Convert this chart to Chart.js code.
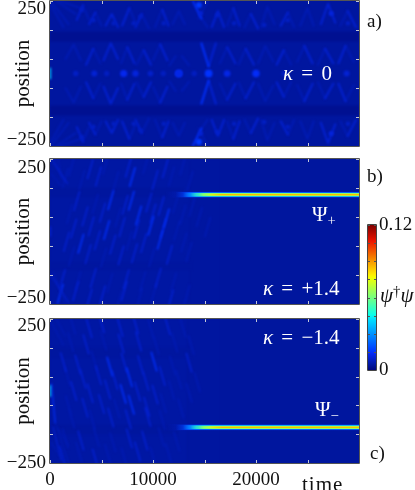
<!DOCTYPE html>
<html><head><meta charset="utf-8">
<style>
html,body{margin:0;padding:0;background:#fff;width:415px;height:490px;overflow:hidden}
canvas{position:absolute;left:0;filter:blur(.35px)}
.n{position:absolute;font:19px "Liberation Serif",serif;white-space:pre;line-height:1;transform:translateY(-50%);filter:blur(.25px)}
.w{color:#fff;font-size:21px;word-spacing:3px}.k{color:#111}
sub{font-size:70%;vertical-align:-4px;line-height:0}
sup{font-size:70%;vertical-align:6px;line-height:0}
</style>
<script src="https://cdn.jsdelivr.net/npm/chart.js@4/dist/chart.umd.js"></script>
</head><body>
<canvas id="pa" width="415" height="150" style="top:0px"></canvas>
<canvas id="pb" width="415" height="152" style="top:155px"></canvas>
<canvas id="pc" width="415" height="175" style="top:315px"></canvas>
<canvas id="cb" width="55" height="165" style="left:360px;top:215px"></canvas>
<div class="n k" style="left:367px;top:20px">a)</div>
<div class="n k" style="left:367px;top:175px">b)</div>
<div class="n k" style="left:370px;top:452px">c)</div>
<div class="n w" style="left:283px;top:73px"><i>κ</i> = 0</div>
<div class="n w" style="left:312px;top:214px">Ψ<sub>+</sub></div>
<div class="n w" style="left:263px;top:288px"><i>κ</i> = +1.4</div>
<div class="n w" style="left:263px;top:337px"><i>κ</i> = −1.4</div>
<div class="n w" style="left:315px;top:409px">Ψ<sub>−</sub></div>
<div class="n k" style="left:380px;top:295px;font-size:21px"><i>ψ</i><sup>†</sup><i>ψ</i></div>
<div class="n k" style="left:302px;top:484px;font-size:21px;letter-spacing:1px">time</div>
<script>
const FONT='"Liberation Serif",serif';
const xTicks=[0,5000,10000,15000,20000,25000,30000];
const xTickLabels=['0','','10000','','20000','',''];
const yTicks=[-250,-150,-50,50,150,250];
const cbTicks=[0,0.015,0.03,0.045,0.06,0.075,0.09,0.105,0.12];
const dashLevels=[0,0.0066,0.0098,0.0145];
const jetStops=[[0,[0,6,125]],[0.035,[0,22,158]],[0.11,[5,40,240]],[0.125,[0,50,255]],[0.35,[0,225,255]],[0.38,[10,255,235]],[0.64,[245,255,0]],[0.66,[255,235,0]],[0.89,[235,20,0]],[1,[128,0,0]]];
const bandsA=[[0.0026,110,145,0,30000],[0.0026,-145,-110,0,30000]];
const bandsB=[[0.0047,-250,250,0,13600],[0.0044,-250,250,13600,16500],[0.0042,119,150,0,13000],[0.0043,-133,-105,0,14000]];
const bandsC=[[0.0047,-250,250,0,13300],[0.0044,-250,250,13300,16500],[0.0043,115,150,0,14000],[0.0042,-150,-118,0,12500]];
const dashesA=[[100,250,1800,170,1],[100,235,1300,160,1],[600,250,2500,205,1],[1000,250,3000,225,1],
[2600,185,3200,235,2],[3200,235,3800,185,1],[3800,170,4400,210,2],[4400,210,5000,165,1],[5400,165,6000,205,2],[6000,205,6600,160,2],
[7000,165,7700,225,2],[7700,225,8300,175,1],[8300,160,8900,205,2],[8900,205,9600,155,1],[10200,160,10900,220,1],[10900,220,11500,165,2],
[11900,170,12500,215,1],[12500,215,13100,170,1],[13900,248,14700,190,3],[14700,190,15300,160,1],[14400,190,15300,248,1],[15700,160,16300,215,2],
[16300,215,16900,160,2],[17200,165,17800,225,1],[17800,225,18400,165,2],[18900,160,19500,205,1],[19500,205,20200,155,2],[20500,160,21100,230,1],
[21100,230,21800,170,1],[22400,165,23100,210,2],[23100,210,23700,160,1],[24300,165,25000,225,1],[25000,225,25600,165,1],[26300,170,27000,240,2],
[27000,240,27700,175,2],[28200,165,28900,215,1],[28900,215,29700,160,2],
[1500,50,2300,100,1],[2300,100,3000,45,1],[3500,30,4200,85,2],[4200,85,4900,35,1],[5200,45,5900,104,2],[5900,104,6600,50,2],
[6900,35,7500,90,1],[7500,90,8200,35,2],[8400,30,9100,80,1],[9100,80,9800,30,2],[10000,45,10700,100,1],[10700,100,11400,45,2],
[11600,28,12200,60,1],[12800,60,13500,28,1],[14700,104,15400,25,3],[16100,104,15400,25,2],[16500,35,17200,90,1],[17200,90,18000,35,2],
[18300,30,19000,85,1],[19000,85,19800,30,2],[20200,35,20900,95,1],[20900,95,21700,40,1],[22000,30,22700,80,2],[22700,80,23400,30,1],
[24000,40,24700,95,1],[24700,95,25500,35,2],[26000,30,26700,85,1],[26700,85,27500,35,2],[28000,35,28700,95,2],[28700,95,29500,40,1]];
const spotsA=[[3090,219,.0085],[4225,184,.0085],[6175,173,.0085],[8125,173,.0085],[8775,196,.008],[11050,173,.0085],[14460,236,.016],[14625,207,.01],[16250,202,.009],[17875,173,.0085],[20800,167,.0085],[23075,184,.0085],[27300,207,.011],[28925,173,.0085]];
const axisSpotsA=[[2500,0,.0085],[4300,0,.01],[5500,0,.008],[7150,0,.013],[8300,0,.011],[9750,0,.009],[11000,0,.008],[12500,0,.014],[12500,0,.012],[14000,0,.008],[15400,0,.015],[17200,0,.012],[20000,0,.014],[22700,0,.008],[28800,0,.01]];
const dashesB=[[2100,225,1],[3900,215,2],[5400,230,1],[7600,220,2],[9300,232,1],[11200,218,2],[12900,228,1],
[1500,185,1],[3100,178,1],[4700,190,2],[6400,175,1],[8000,188,3],[10200,178,2],[11800,190,1],[13600,175,1],
[2600,105,2],[4400,95,1],[5900,108,3],[7300,92,2],[7900,106,3],[9600,100,2],[10800,88,2],[12200,96,1],[13800,85,1],
[1900,60,1],[3400,52,2],[5100,65,2],[6600,48,1],[8600,55,3],[10000,62,2],[11300,45,3],[12900,58,1],[14500,50,1],
[2300,10,2],[4000,18,2],[5500,5,3],[7000,15,2],[8400,8,2],[9800,20,3],[11000,12,2],[12300,3,1],[15300,15,1],
[1600,-35,2],[3000,-42,3],[4600,-30,2],[6100,-45,2],[7700,-32,1],[9100,-40,2],[10700,-28,3],[13000,-38,1],
[2100,-85,1],[3700,-78,2],[5200,-90,1],[6900,-82,2],[8200,-75,2],[9900,-88,1],[11600,-80,2],[13500,-70,1],
[1200,-165,2],[2700,-172,1],[4200,-160,2],[5800,-178,1],[7400,-165,2],[9000,-172,1],[10500,-160,2],[12000,-175,1],
[1000,-215,3],[2500,-205,2],[3800,-232,2],[5100,-220,2],[6700,-238,1],[7200,-205,2],[8700,-228,1],[10100,-210,1],[11700,-235,2],[13300,-218,1]];
const dashesC=[[2200,230,1],[3800,218,2],[5000,235,2],[6800,222,2],[8300,232,2],[9800,215,1],[11400,228,2],[12900,220,1],
[2000,170,1],[3500,162,2],[5200,175,1],[6900,165,2],[8600,172,2],[10300,160,1],[12100,168,1],[13700,160,1],
[1300,100,2],[2700,92,2],[4300,105,1],[5800,85,3],[7200,98,2],[8800,90,2],[10100,102,3],[11900,88,1],[13500,98,2],
[1700,50,1],[3200,42,2],[4700,55,2],[6300,38,2],[7700,48,3],[9300,35,2],[10900,52,2],[12500,40,1],[14300,30,1],
[2300,0,2],[3900,-8,2],[5600,5,2],[7100,-10,3],[8500,-2,2],[10200,-12,2],[11800,3,1],[13500,-6,1],
[1800,-50,1],[3400,-58,2],[5000,-45,2],[6500,-62,1],[7900,-48,3],[9400,-55,2],[11000,-42,1],[12700,-60,1],
[2100,-95,1],[4100,-100,1],[5900,-92,2],[7600,-98,2],[9500,-90,2],[10900,-100,1],
[1500,-165,1],[3000,-172,2],[4500,-160,1],[6100,-178,1],[7700,-165,2],[9200,-172,2],[10800,-160,1],[12300,-175,1],
[1200,-225,2],[2800,-212,1],[4400,-235,2],[5600,-218,1],[7200,-230,1],[8500,-210,2],[10000,-228,1],[11500,-215,1]];
const cornerFanB=[[100,250,1700,165,2],[400,250,1400,170,1],[800,250,1100,185,1],[100,200,1000,160,1],[100,-150,1800,-245,2],[700,-170,1500,-250,1],[300,-140,1000,-200,1]];
const cornerFanC=[[100,240,1300,160,1],[600,250,1500,190,1],[150,25,500,-110,3],[500,-110,1800,-250,1],[300,-125,1100,-240,2],[100,-180,1400,-245,1],[800,-130,1800,-190,1]];
const edgeSpotsA=[[30,20,30,-20,.04]];
const edgeSpotsB=[[30,18,30,-18,.01]];
const edgeSpotsC=[[30,20,30,-20,.04]];
const streakStart=[11200,12200,12900,13600,14400,15400];
const streakHalf=[11,9,7,5.5,4,2.2];
const streakValue=[.006,.018,.036,.056,.072,.085];
const streakPosB=127, streakPosC=-126;
const colorOf=v=>{let f=Math.min(v/0.12,1);for(let i=1;i<jetStops.length;i++){if(f<=jetStops[i][0]){const[a,A]=jetStops[i-1],[b,B]=jetStops[i],k=(f-a)/(b-a);return`rgb(${A.map((c,j)=>Math.round(c+(B[j]-c)*k)).join(',')})`}}return'#800000'};
const fade=(col)=>col.replace('rgb(','rgba(').replace(')',',0)');
const polyline=list=>{const out=[];list.forEach(([a,b,c,d])=>out.push({x:a,y:b},{x:c,y:d},{x:c,y:null}));return out};
function bandSets(bands){const r=[];bands.forEach(([v,lo,hi,t0,t1])=>{r.push({data:[{x:t0,y:hi},{x:t1,y:hi}],showLine:true,borderWidth:0,pointRadius:0,fill:'+1',backgroundColor:colorOf(v)},{data:[{x:t0,y:lo},{x:t1,y:lo}],showLine:true,borderWidth:0,pointRadius:0,fill:false});});return r}
function lineSets(list,width){return [1,2,3].map(l=>({data:polyline(list.filter(d=>d[4]===l)),showLine:true,borderColor:colorOf(dashLevels[l]),borderWidth:width,borderCapStyle:'round',pointRadius:0,spanGaps:false,fill:false}))}
function spotSet(list,k){return{data:list.map(s=>({x:s[0],y:s[1]})),showLine:false,pointRadius:list.map(s=>Math.min(1.2+s[2]*k,5)),pointBackgroundColor:list.map(s=>colorOf(s[2])),pointBorderWidth:0,fill:false}}
function edgeSet(list){return list.map(s=>({data:[{x:s[0],y:s[1]},{x:s[2],y:s[3]}],showLine:true,borderColor:colorOf(s[4]),borderWidth:1.6,pointRadius:0,fill:false}))}
function streakSets(pos){return streakStart.map((t,i)=>({data:[{x:t,y:pos},{x:30000,y:pos}],showLine:true,borderWidth:streakHalf[i]*2/3.45,pointRadius:0,fill:false,blur:'blur(.45px)',
 borderColor:c=>{const s=c.chart.scales.x,col=colorOf(streakValue[i]);if(!s||!c.chart.chartArea)return col;const g=c.chart.ctx.createLinearGradient(s.getPixelForValue(t),0,s.getPixelForValue(t+1300),0);g.addColorStop(0,fade(col));g.addColorStop(1,col);return g}}))}
const mirror=l=>l.concat(l.map(d=>[d[0],-d[1],d[2],-d[3],d[4]]));
const mirrorSpots=l=>l.concat(l.map(d=>[d[0],-d[1],d[2]]));
const slant=(l,dt,dp)=>l.map(([t,p,v])=>[t-dt,p-dp,t+dt,p+dp,v]);
const noMargins=s=>{s.paddingTop=0;s.paddingBottom=0;s.paddingLeft=0;s.paddingRight=0};
const heat={id:'heat',
 beforeDatasetsDraw(c,a,o){const{ctx,chartArea:r}=c;ctx.save();ctx.fillStyle=colorOf(o.base);ctx.fillRect(r.left,r.top,r.width,r.height);ctx.filter=o.blur},
 beforeDatasetDraw(c,a,o){const b=c.data.datasets[a.index].blur;if(b)c.ctx.filter=b},
 afterDatasetsDraw(c){const{ctx,chartArea:r,scales:{x,y}}=c;ctx.restore();ctx.save();ctx.strokeStyle='#c4c8d8';ctx.lineWidth=1;ctx.beginPath();
  x.ticks.forEach(t=>{const p=Math.round(x.getPixelForValue(t.value))+.5;ctx.moveTo(p,r.top);ctx.lineTo(p,r.top+3);ctx.moveTo(p,r.bottom);ctx.lineTo(p,r.bottom-3)});
  y.ticks.forEach(t=>{const p=Math.round(y.getPixelForValue(t.value))+.5;ctx.moveTo(r.left,p);ctx.lineTo(r.left+3,p);ctx.moveTo(r.right,p);ctx.lineTo(r.right-3,p)});
  ctx.stroke();ctx.strokeStyle='#555';ctx.beginPath();ctx.rect(r.left-.5,r.top-.5,r.width+1,r.height+1);ctx.stroke();ctx.restore()}};
function panel(id,cfg){const sets=cfg.sets;sets.forEach((d,i)=>d.order=sets.length-i);
 return new Chart(document.getElementById(id),{type:'scatter',data:{datasets:sets},plugins:[heat],options:{responsive:false,animation:false,events:[],
 layout:{autoPadding:false,padding:{top:cfg.top,bottom:cfg.bottom,left:0,right:56}},
 plugins:{legend:{display:false},tooltip:{enabled:false},heat:{base:cfg.base,blur:'blur(1px)'}},
 elements:{line:{tension:0}},
 scales:{x:{type:'linear',min:0,max:30000,grid:{display:false,drawTicks:false},border:{display:false},afterBuildTicks:s=>{s.ticks=xTicks.map(v=>({value:v}))},afterFit:s=>{s.height=cfg.xh;noMargins(s)},
  ticks:{display:cfg.xlabels,autoSkip:false,maxRotation:0,padding:6,color:'#111',font:{family:FONT,size:19},callback:v=>xTickLabels[xTicks.indexOf(v)]}},
 y:{type:'linear',min:-250,max:250,grid:{display:false,drawTicks:false},border:{display:false},afterBuildTicks:s=>{s.ticks=yTicks.map(v=>({value:v}))},afterFit:s=>{s.width=50;noMargins(s)},
  title:{display:true,text:'position',color:'#111',font:{family:FONT,size:21},padding:{top:11,bottom:0}},
  ticks:{autoSkip:false,padding:4,color:'#111',
   font:c=>({family:FONT,size:19,lineHeight:(c.tick&&c.tick.value===250?2*cfg.topShift:(c.tick&&c.tick.value===-250?2*Math.max(cfg.botShift,1):20))+'px'}),
   callback:v=>v===250?['','250']:v===-250?(cfg.botShift?['−250','']:'−250'):''}}}}})}
panel('pa',{top:1,bottom:4,xh:0,xlabels:false,topShift:8,botShift:6,base:0.0043,sets:[...bandSets(bandsA),...lineSets(mirror(dashesA),2),spotSet(mirrorSpots(spotsA),120),spotSet(axisSpotsA,180),...edgeSet(edgeSpotsA)]});
panel('pb',{top:4,bottom:3,xh:0,xlabels:false,topShift:9,botShift:6,base:0.0042,sets:[...bandSets(bandsB),...lineSets(slant(dashesB,260,32),1.6),...lineSets(cornerFanB,1.2),...edgeSet(edgeSpotsB),...streakSets(streakPosB)]});
panel('pc',{top:4,bottom:0,xh:27,xlabels:true,topShift:7,botShift:0,base:0.0042,sets:[...bandSets(bandsC),...lineSets(slant(dashesC,260,-32),1.6),...lineSets(cornerFanC,1.2),...edgeSet(edgeSpotsC),...streakSets(streakPosC)]});
new Chart(document.getElementById('cb'),{type:'bar',data:{labels:['ψ†ψ'],datasets:[{data:[[0,0.12]],barPercentage:1,categoryPercentage:1,inflateAmount:0,
 backgroundColor:c=>{const a=c.chart.chartArea;if(!a)return'#000';const g=c.chart.ctx.createLinearGradient(0,a.bottom,0,a.top);jetStops.forEach(([f])=>g.addColorStop(f,colorOf(f*0.12)));return g}}]},
 plugins:[{id:'cbf',afterDatasetsDraw(c){const{ctx,chartArea:r,scales:{y}}=c;ctx.save();ctx.strokeStyle='#555';ctx.lineWidth=1;ctx.beginPath();y.ticks.forEach(t=>{const p=Math.round(y.getPixelForValue(t.value))+.5;ctx.moveTo(r.right,p);ctx.lineTo(r.right-2,p);ctx.moveTo(r.left,p);ctx.lineTo(r.left+2,p)});ctx.stroke();ctx.strokeStyle='#444';ctx.beginPath();ctx.rect(r.left-.5,r.top-.5,r.width+1,r.height+1);ctx.stroke();ctx.restore()}}],
 options:{responsive:false,animation:false,events:[],layout:{autoPadding:false,padding:{left:8,top:10,bottom:10,right:0}},plugins:{legend:{display:false},tooltip:{enabled:false}},
 scales:{x:{display:false},y:{position:'right',min:0,max:0.12,grid:{display:false,drawTicks:false},border:{display:false},afterBuildTicks:s=>{s.ticks=cbTicks.map(v=>({value:v}))},afterFit:s=>{s.width=39;noMargins(s)},
  ticks:{autoSkip:false,padding:3,color:'#111',font:{family:FONT,size:19},callback:v=>v===0?'0':v===0.12?'0.12':''}}}}});
</script></body></html>
